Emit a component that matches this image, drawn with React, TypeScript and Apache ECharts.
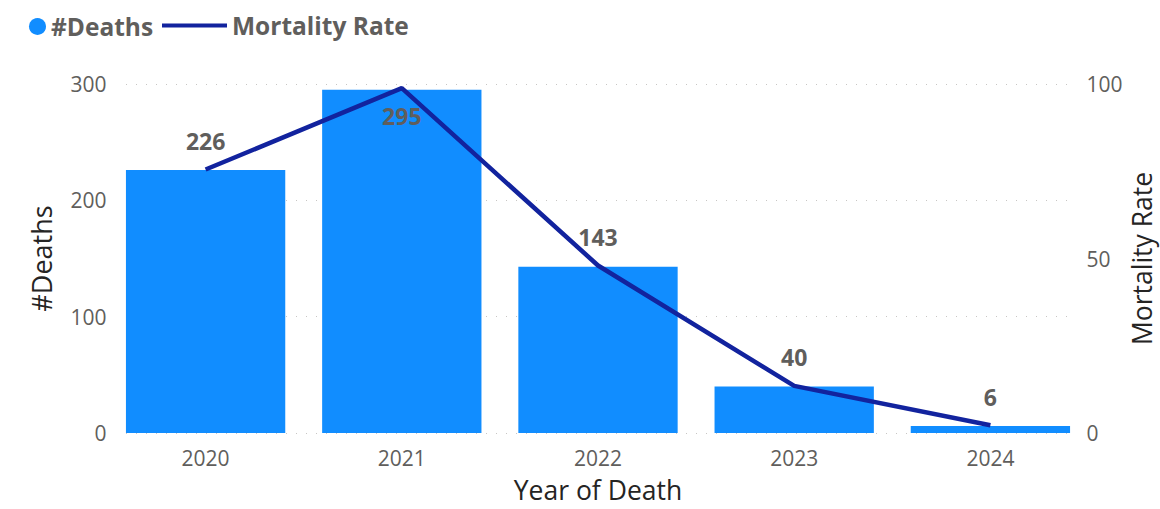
import React, { useEffect, useRef } from "react";
import * as echarts from "echarts";

const years = ["2020", "2021", "2022", "2023", "2024"];
const deaths = [226, 295, 143, 40, 6];
const mortalityRate = [75.5, 98.8, 48, 13.5, 2.2];
const leftTicks = { min: 0, max: 300, interval: 100 };
const rightTicks = { min: 0, max: 100, interval: 50 };

const FONT = "'Open Sans', 'Noto Sans', sans-serif";

export default function App() {
  const ref = useRef<HTMLDivElement>(null);
  useEffect(() => {
    if (!ref.current) return;
    const chart = echarts.init(ref.current, null, { renderer: "svg" });
    const legendText = { fontSize: 24.5, fontWeight: "bold", color: "#605E5C", fontFamily: FONT };
    chart.setOption({
      animation: false,
      textStyle: { fontFamily: FONT },
      legend: [
        {
          left: 29,
          top: 14,
          padding: 0,
          icon: "circle",
          itemWidth: 17,
          itemHeight: 17,
          itemGap: 4,
          data: ["#Deaths"],
          textStyle: { ...legendText, padding: [0, 0, 0, 0] },
        },
        {
          left: 162,
          top: 13,
          padding: 0,
          icon: "rect",
          itemWidth: 65,
          itemHeight: 4,
          data: ["Mortality Rate"],
          textStyle: { ...legendText, padding: [0, 0, 0, 0] },
        },
      ],
      grid: [
        { left: 107.5, right: 71.5, top: 84, bottom: 76, outerBoundsMode: "none", containLabel: false },
        { left: 126, right: 90, top: 84, bottom: 76, outerBoundsMode: "none", containLabel: false },
      ],
      xAxis: [
        {
          type: "category",
          gridIndex: 0,
          data: years,
          axisLine: { show: false },
          axisTick: { show: false },
          axisLabel: { fontSize: 21, color: "#605E5C", margin: 14, fontFamily: FONT },
          name: "Year of Death",
          nameLocation: "middle",
          nameGap: 44,
          nameTextStyle: { fontSize: 26.5, lineHeight: 26, color: "#252423", fontFamily: FONT },
        },
        { type: "value", gridIndex: 1, show: false, min: 0, max: 1 },
      ],
      yAxis: [
        {
          type: "value",
          gridIndex: 0,
          ...leftTicks,
          name: "#Deaths",
          nameLocation: "middle",
          nameGap: 53,
          nameTextStyle: { fontSize: 27, lineHeight: 27, color: "#252423", fontFamily: FONT },
          axisLabel: { fontSize: 21, color: "#605E5C", margin: 1, fontFamily: FONT },
          splitLine: { show: false },
        },
        {
          type: "value",
          gridIndex: 0,
          ...rightTicks,
          name: "Mortality Rate",
          nameLocation: "middle",
          nameGap: 40,
          nameMoveOverlap: false,
          nameRotate: 90,
          nameTextStyle: { fontSize: 26.5, lineHeight: 26, color: "#252423", fontFamily: FONT },
          axisLabel: { fontSize: 21, color: "#605E5C", margin: -2, fontFamily: FONT },
          splitLine: { show: false },
        },
        {
          type: "value",
          gridIndex: 1,
          ...leftTicks,
          axisLabel: { show: false },
          axisLine: { show: false },
          axisTick: { show: false },
          splitLine: { lineStyle: { color: "#C8C6C4", type: [1, 9], width: 1 } },
        },
      ],
      series: [
        {
          name: "#Deaths",
          type: "bar",
          xAxisIndex: 0,
          yAxisIndex: 0,
          barCategoryGap: "18.8%",
          itemStyle: { color: "#118DFF" },
          data: deaths.map((v, i) => ({
            value: v,
            label: i === 1 ? { position: "insideTop", distance: 15 } : undefined,
          })),
          label: {
            show: true,
            position: "top",
            distance: 18,
            fontSize: 23,
            fontWeight: "bold",
            color: "#605E5C",
            fontFamily: FONT,
          },
        },
        {
          name: "Mortality Rate",
          type: "line",
          xAxisIndex: 0,
          yAxisIndex: 1,
          data: mortalityRate,
          symbol: "none",
          lineStyle: { color: "#12239E", width: 4.5 },
          itemStyle: { color: "#12239E" },
        },
      ],
    });
    return () => chart.dispose();
  }, []);
  return <div ref={ref} style={{ width: 1160, height: 509, position: "absolute", left: 0, top: 0 }} />;
}
